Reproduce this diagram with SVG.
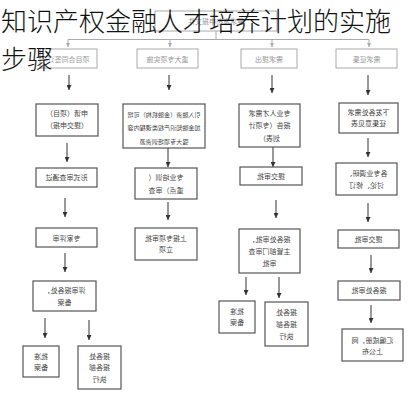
<svg xmlns="http://www.w3.org/2000/svg" width="413" height="400" viewBox="0 0 413 400">
<style>
.bg{fill:#fff}
.box{fill:#fff;stroke:#555;stroke-width:1.2}
.boxl{fill:#fff;stroke:#aaa;stroke-width:1}
.t{font-family:"Noto Sans CJK SC","Noto Sans",sans-serif;font-size:7px;fill:#444;text-anchor:middle}
.ts{font-size:6.1px}
.tl{fill:#999}
.c{stroke:#333;stroke-width:1;fill:none;marker-end:url(#ah)}
.cl{stroke:#aaa;stroke-width:1;fill:none}
.cla{stroke:#aaa;stroke-width:1;fill:none;marker-end:url(#ahl)}
.title{font-family:"Noto Sans CJK SC","Noto Sans",sans-serif;font-size:26px;font-weight:300;fill:#111}
</style>
<defs>
<marker id="ah" markerUnits="userSpaceOnUse" markerWidth="5" markerHeight="5" refX="5" refY="2.5" orient="auto"><path d="M0,0 L5,2.5 L0,5 z" fill="#333"/></marker>
<marker id="ahl" markerUnits="userSpaceOnUse" markerWidth="4" markerHeight="4" refX="4" refY="2" orient="auto"><path d="M0,0 L4,2 L0,4 z" fill="#aaa"/></marker>
</defs>
<rect class="bg" width="413" height="400"/>

<g id="connectors">
<path class="cl" d="M216,31 V39.5 M68,39.5 H369"/>
<path class="cla" d="M68,39.5 V47"/>
<path class="cla" d="M170,39.5 V47"/>
<path class="cla" d="M272,39.5 V47"/>
<path class="cla" d="M369,39.5 V47"/>
<path class="c" d="M69,75 V90"/>
<path class="c" d="M169,75 V90"/>
<path class="c" d="M272,75 V93"/>
<path class="c" d="M368,75 V95"/>
<path class="c" d="M67,143 V162"/>
<path class="c" d="M65,198 V217"/>
<path class="c" d="M65,253 V272"/>
<path class="c" d="M45,318 V338"/>
<path class="c" d="M89,320 V340"/>
<path class="c" d="M168,148 V167"/>
<path class="c" d="M168,202 V220"/>
<path class="c" d="M273,147 V167"/>
<path class="c" d="M276,200 V218"/>
<path class="c" d="M246,277 V295"/>
<path class="c" d="M279,277 V298"/>
<path class="c" d="M368,138 V157"/>
<path class="c" d="M368,203 V222"/>
<path class="c" d="M371,255 V273"/>
<path class="c" d="M371,305 V323"/>
</g>

<g id="n-top"><rect class="boxl" x="155" y="11" width="122" height="20"/><text class="t tl" transform="scale(-1,1)" x="-216" y="24">要求发布申报文件</text></g>

<g id="n-r1c1"><rect class="boxl" x="40" y="49" width="57" height="19"/><text class="t tl" transform="scale(-1,1)" x="-68.5" y="61.5">项目合同签订</text></g>
<g id="n-r1c2"><rect class="boxl" x="137" y="49" width="61" height="19"/><text class="t tl" transform="scale(-1,1)" x="-167.5" y="61.5">重大专项实施</text></g>
<g id="n-r1c3"><rect class="boxl" x="241" y="49" width="56" height="19"/><text class="t tl" transform="scale(-1,1)" x="-269" y="61.5">需求提出</text></g>
<g id="n-r1c4"><rect class="boxl" x="336" y="49" width="61" height="19"/><text class="t tl" transform="scale(-1,1)" x="-366.5" y="61.5">需求征集</text></g>

<g id="n-c1b2"><rect class="box" x="36" y="104" width="62" height="32"/><text class="t" transform="scale(-1,1)"><tspan x="-67" y="115.5">申请（项目）</tspan><tspan x="-67" y="127.5">（提交申报）</tspan></text></g>
<g id="n-c1b3"><rect class="box" x="36" y="168" width="61" height="19"/><text class="t" transform="scale(-1,1)" x="-66.5" y="180">形式审查通过</text></g>
<g id="n-c1b4"><rect class="box" x="36" y="228" width="61" height="19"/><text class="t" transform="scale(-1,1)" x="-66.5" y="240.5">专家评审</text></g>
<g id="n-c1b5"><rect class="box" x="33" y="281" width="63" height="30"/><text class="t" transform="scale(-1,1)"><tspan x="-64.5" y="292.5">评审报各处，</tspan><tspan x="-64.5" y="304.5">备案</tspan></text></g>
<g id="n-c1b6"><rect class="box" x="23" y="346" width="36" height="31"/><text class="t" transform="scale(-1,1)"><tspan x="-41" y="358.5">批准</tspan><tspan x="-41" y="369.5">备案</tspan></text></g>
<g id="n-c1b7"><rect class="box" x="78" y="346" width="43" height="43"/><text class="t" transform="scale(-1,1)"><tspan x="-99.5" y="358.5">报各处</tspan><tspan x="-99.5" y="370">报各部</tspan><tspan x="-99.5" y="381.5">执行</tspan></text></g>

<g id="n-c2b2"><rect class="box" x="123" y="104" width="82" height="44"/><text class="t ts" transform="scale(-1,1)"><tspan x="-164" y="116.5">引入融资（金融机构）可增</tspan><tspan x="-164" y="130">加金融知识产权类课程内容</tspan><tspan x="-164" y="143.5">强大专项培训资源</tspan></text></g>
<g id="n-c2b3"><rect class="box" x="135" y="168" width="62" height="31"/><text class="t" transform="scale(-1,1)"><tspan x="-166" y="179.5">专业培训（</tspan><tspan x="-166" y="192.5">重点）审查</tspan></text></g>
<g id="n-c2b4"><rect class="box" x="135" y="228" width="62" height="32"/><text class="t" transform="scale(-1,1)"><tspan x="-166" y="240.5">上报专项审批</tspan><tspan x="-166" y="252">立项</tspan></text></g>

<g id="n-c3b2"><rect class="box" x="239" y="104" width="61" height="43"/><text class="t" transform="scale(-1,1)"><tspan x="-269.5" y="115.5">专业人才需求</tspan><tspan x="-269.5" y="128">报告（专项计</tspan><tspan x="-269.5" y="140.5">划表）</tspan></text></g>
<g id="n-c3b3"><rect class="box" x="240" y="167" width="62" height="18"/><text class="t" transform="scale(-1,1)" x="-271" y="178.5">提交审批</text></g>
<g id="n-c3b4"><rect class="box" x="239" y="229" width="61" height="44"/><text class="t" transform="scale(-1,1)"><tspan x="-269.5" y="241.5">报各处审批，</tspan><tspan x="-269.5" y="254">主管部门审查</tspan><tspan x="-269.5" y="266">审批</tspan></text></g>
<g id="n-c3b5"><rect class="box" x="219" y="301" width="36" height="32"/><text class="t" transform="scale(-1,1)"><tspan x="-237" y="313.5">批准</tspan><tspan x="-237" y="325">备案</tspan></text></g>
<g id="n-c3b6"><rect class="box" x="265" y="302" width="43" height="44"/><text class="t" transform="scale(-1,1)"><tspan x="-286.5" y="314.5">报各处</tspan><tspan x="-286.5" y="326.5">报各部</tspan><tspan x="-286.5" y="339">执行</tspan></text></g>

<g id="n-c4b2"><rect class="box" x="339" y="103" width="59" height="30"/><text class="t" transform="scale(-1,1)"><tspan x="-368.5" y="114.5">下发各处需求</tspan><tspan x="-368.5" y="126">征集意见表</tspan></text></g>
<g id="n-c4b3"><rect class="box" x="336" y="163" width="61" height="32"/><text class="t" transform="scale(-1,1)"><tspan x="-366.5" y="175.5">各专业调研、</tspan><tspan x="-366.5" y="187.5">讨论、修订</tspan></text></g>
<g id="n-c4b4"><rect class="box" x="338" y="230" width="61" height="18"/><text class="t" transform="scale(-1,1)" x="-368.5" y="241.5">提交审批</text></g>
<g id="n-c4b5"><rect class="box" x="338" y="281" width="62" height="19"/><text class="t" transform="scale(-1,1)" x="-369" y="293">报各处审批</text></g>
<g id="n-c4b6"><rect class="box" x="342" y="329" width="61" height="32"/><text class="t" transform="scale(-1,1)"><tspan x="-372.5" y="342.5">汇编成册，网</tspan><tspan x="-372.5" y="354">上公布</tspan></text></g>

<g id="title">
<text class="title" x="1" y="31">知识产权金融人才培养计划的实施</text>
<text class="title" x="1" y="69">步骤</text>
</g>
</svg>
